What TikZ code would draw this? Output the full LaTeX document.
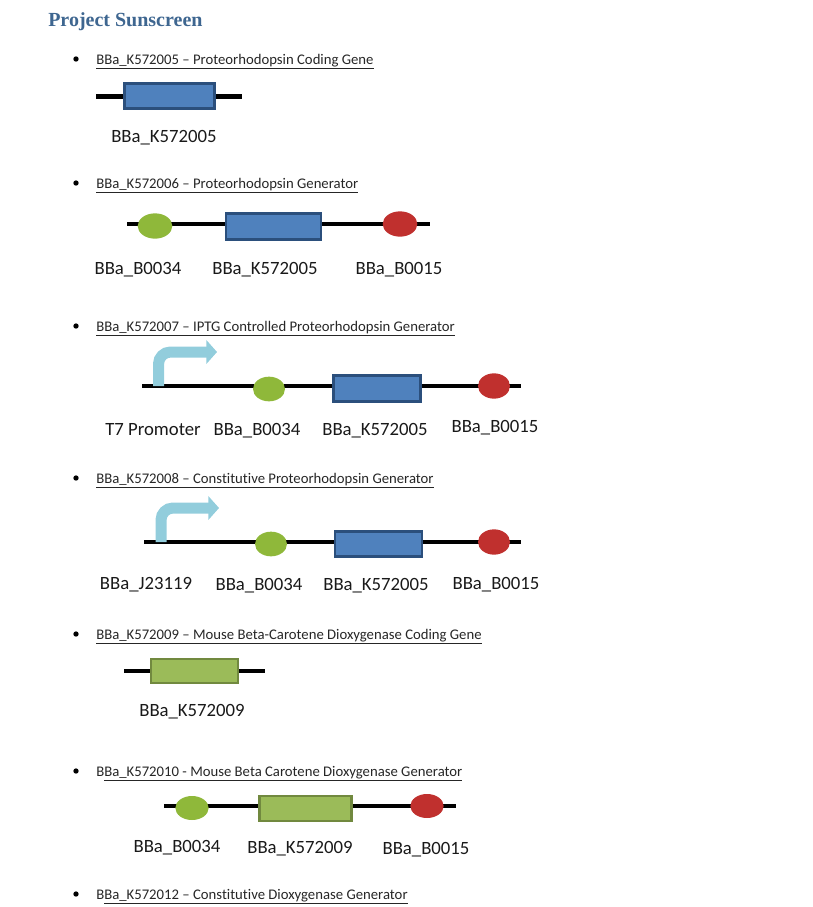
\documentclass[tikz,border=0pt]{standalone}
\usepackage{fontspec}
\setmainfont[Ligatures=NoCommon]{Carlito}
\newfontfamily\titlefont{Liberation Serif}
\usetikzlibrary{arrows.meta}
\usetikzlibrary{backgrounds}
\usetikzlibrary{shapes.geometric}
\definecolor{titleblue}{HTML}{3E6690}
\definecolor{geneblue}{HTML}{4F81BD}
\definecolor{geneedge}{HTML}{2B4F7C}
\definecolor{genegreen}{HTML}{9BBB59}
\definecolor{greenedge}{HTML}{71893F}
\definecolor{rbsgreen}{HTML}{8FB83A}
\definecolor{termred}{HTML}{C0302E}
\definecolor{promblue}{HTML}{92CDDC}
\begin{document}
\begin{tikzpicture}[
				x=0.75pt, y=-0.75pt,
				wire/.style={line width=3.2pt, line cap=butt},
				genebox/.style={draw=geneedge, fill=geneblue, line width=1.8pt, inner sep=0pt},
				mousebox/.style={draw=greenedge, fill=genegreen, line width=1.8pt, inner sep=0pt},
				rbs/.style={ellipse, fill=rbsgreen, inner sep=0pt, minimum width=26pt, minimum height=19pt},
				term/.style={ellipse, fill=termred, inner sep=0pt, minimum width=26pt, minimum height=19pt},
				promoter/.style={draw=promblue, line width=8.25pt, rounded corners=9pt, -{Triangle[length=8pt, width=17.5pt]}},
				partlabel/.style={font=\fontsize{14.05}{16}\selectfont, inner sep=0pt, yshift=-0.5pt, text=black!90},
				heading/.style={anchor=base west, font=\fontsize{11.04}{13}\selectfont, inner sep=0pt, text=black!85},
				dot/.style={circle, fill=black, inner sep=0pt, minimum size=4pt},
			]
				\useasboundingbox (0,0) rectangle (813,907);

				\node[anchor=base west, inner sep=0pt, text=titleblue, font=\titlefont\fontsize{15}{17}\selectfont\bfseries] (title) at (48,26) {Project Sunscreen};

				\foreach \n/\y/\txt in {
						1/59/{\underline{BBa\_K572005 – Proteorhodopsin Coding Gene}},
						2/183/{\underline{BBa\_K572006 – Proteorhodopsin Generator}},
						3/326/{\underline{BBa\_K572007 – IPTG Controlled Proteorhodopsin Generator}},
						4/478/{\underline{BBa\_K572008 – Constitutive Proteorhodopsin Generator}},
						5/634/{\underline{BBa\_K572009 – Mouse Beta-Carotene Dioxygenase Coding Gene}},
						6/771/{B\underline{Ba\_K572010 - Mouse Beta Carotene Dioxygenase Generator}},
						7/894/{B\underline{Ba\_K572012 – Constitutive Dioxygenase Generator}}} {
					\node[dot] (bullet\n) at (76,\y) {};
					\node[heading] (heading\n) at (96,\y+5) {\txt};
				}

				% first row
				\coordinate (start1) at (96,96.5);
				\coordinate (end1) at (242,96.5);
				\node[genebox, minimum width=67.5pt, minimum height=18.5pt] (gene1) at (169.5,96) {};
				\node[partlabel] (genelabel1) at (164,137) {BBa\_K572005};
				\begin{scope}[on background layer]
					\draw[wire] (start1) -- (end1);
				\end{scope}

				% second row
				\coordinate (start2) at (127,224);
				\coordinate (end2) at (430,224);
				\node[rbs] (rbs2) at (155,226) {};
				\node[genebox, minimum width=71pt, minimum height=19.5pt] (gene2) at (273.5,226.5) {};
				\node[term] (term2) at (400,224) {};
				\node[partlabel] (rbslabel2) at (138,269) {BBa\_B0034};
				\node[partlabel] (genelabel2) at (265,269) {BBa\_K572005};
				\node[partlabel] (termlabel2) at (399,269) {BBa\_B0015};
				\begin{scope}[on background layer]
					\draw[wire] (start2) -- (start2 -| rbs2) -- (start2 -| gene2) -- (start2 -| term2) -- (end2);
				\end{scope}

				% third row
				\coordinate (start3) at (142,386);
				\coordinate (end3) at (521,386);
				\coordinate (prom3) at (158.5,386);
				\coordinate (promtip3) at (217,352);
				\node[rbs, minimum width=24pt, minimum height=18.5pt] (rbs3) at (269,389) {};
				\node[genebox, minimum width=65.5pt, minimum height=19.5pt] (gene3) at (377,388.5) {};
				\node[term, minimum width=24pt, minimum height=19pt] (term3) at (494,386) {};
				\node[partlabel] (promlabel3) at (153,429) {T7 Promoter};
				\node[partlabel] (rbslabel3) at (257,430) {BBa\_B0034};
				\node[partlabel] (genelabel3) at (375,430) {BBa\_K572005};
				\node[partlabel] (termlabel3) at (495,427) {BBa\_B0015};
				\begin{scope}[on background layer]
					\draw[wire] (start3) -- (start3 -| rbs3) -- (start3 -| gene3) -- (start3 -| term3) -- (end3);
				\end{scope}
				\draw[promoter] (prom3) |- (promtip3);

				% fourth row
				\coordinate (start4) at (144,542);
				\coordinate (end4) at (521,542);
				\coordinate (prom4) at (161,542);
				\coordinate (promtip4) at (219,508);
				\node[rbs, minimum width=24pt, minimum height=18.5pt] (rbs4) at (271,544) {};
				\node[genebox, minimum width=65pt, minimum height=19pt] (gene4) at (378.5,544) {};
				\node[term, minimum width=24pt, minimum height=19pt] (term4) at (494,542) {};
				\node[partlabel] (promlabel4) at (146,584) {BBa\_J23119};
				\node[partlabel] (rbslabel4) at (259,585) {BBa\_B0034};
				\node[partlabel] (genelabel4) at (376,585) {BBa\_K572005};
				\node[partlabel] (termlabel4) at (496,584) {BBa\_B0015};
				\begin{scope}[on background layer]
					\draw[wire] (start4) -- (start4 -| rbs4) -- (start4 -| gene4) -- (start4 -| term4) -- (end4);
				\end{scope}
				\draw[promoter] (prom4) |- (promtip4);

				% fifth row
				\coordinate (start5) at (124,671);
				\coordinate (end5) at (265,671);
				\node[mousebox, minimum width=65pt, minimum height=18pt] (gene5) at (194.5,671) {};
				\node[partlabel] (genelabel5) at (192,711) {BBa\_K572009};
				\begin{scope}[on background layer]
					\draw[wire] (start5) -- (end5);
				\end{scope}

				% sixth row
				\coordinate (start6) at (164,806);
				\coordinate (end6) at (456,806);
				\node[rbs, minimum width=25pt, minimum height=18pt] (rbs6) at (192,808) {};
				\node[mousebox, minimum width=69pt, minimum height=18.5pt] (gene6) at (305.5,808.5) {};
				\node[term, minimum width=25pt, minimum height=18pt] (term6) at (427,806) {};
				\node[partlabel] (rbslabel6) at (177,847) {BBa\_B0034};
				\node[partlabel] (genelabel6) at (300,848) {BBa\_K572009};
				\node[partlabel] (termlabel6) at (426,849) {BBa\_B0015};
				\begin{scope}[on background layer]
					\draw[wire] (start6) -- (start6 -| rbs6) -- (start6 -| gene6) -- (start6 -| term6) -- (end6);
				\end{scope}
			\end{tikzpicture}
\end{document}
